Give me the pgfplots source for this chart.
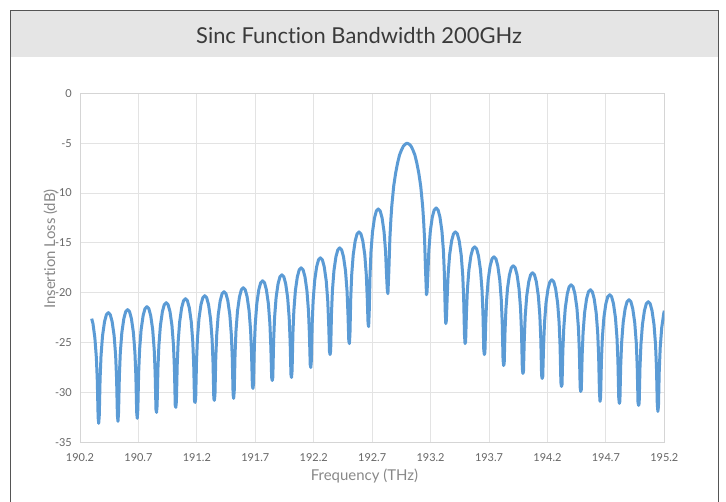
\documentclass[border=0pt]{standalone}
\usepackage{fontspec}
\setmainfont{Lato}[Ligatures=NoCommon]
\usepackage{pgfplots}
\pgfplotsset{compat=1.18}
\definecolor{curvecol}{HTML}{5B9BD5}
\definecolor{headgray}{HTML}{E5E5E5}
\definecolor{bordercol}{HTML}{555555}
\definecolor{gridcol}{HTML}{E3E3E3}
\definecolor{axiscol}{HTML}{D5D5D5}
\definecolor{tickcol}{HTML}{666666}
\definecolor{labelcol}{HTML}{888888}
\definecolor{titlecol}{HTML}{3A3A3A}
\begin{document}
\begin{tikzpicture}
\useasboundingbox (0bp,0bp) rectangle (726bp,502bp);
\fill[white] (0bp,0bp) rectangle (726bp,502bp);
\fill[headgray] (10.5bp,444.5bp) rectangle (718bp,491.5bp);
\draw[bordercol, line width=1bp] (10.5bp,0bp) -- (10.5bp,491.5bp) -- (718bp,491.5bp) -- (718bp,0bp);
\node[anchor=base, inner sep=0pt, text=titlecol, font=\fontsize{22}{22}\selectfont] at (359bp,458.7bp) {Sinc Function Bandwidth 200GHz};
\begin{axis}[
  at={(80bp,59.7bp)}, anchor=south west,
  width=584.3bp, height=349bp, scale only axis,
  xmin=190.2, xmax=195.2, ymin=-35, ymax=0,
  xtick={190.2,190.7,191.2,191.7,192.2,192.7,193.2,193.7,194.2,194.7,195.2},
  xticklabels={190.2,190.7,191.2,191.7,192.2,192.7,193.2,193.7,194.2,194.7,195.2},
  ytick={-35,-30,-25,-20,-15,-10,-5,0},
  yticklabels={-35,-30,-25,-20,-15,-10,-5,0},
  major tick length=0pt,
  grid=major,
  major grid style={gridcol, line width=1bp},
  axis line style={axiscol, line width=1bp},
  tick label style={font=\fontsize{11}{11}\selectfont, text=tickcol},
  xticklabel style={anchor=north, inner sep=0pt, yshift=-11bp},
  yticklabel style={anchor=east, inner sep=0pt, xshift=-8bp},
]
\addplot[curvecol, line width=3bp, line join=round, no marks] table {
x y
190.300 -22.6
190.311 -23.1
190.327 -24.5
190.340 -26.5
190.348 -28.8
190.355 -32.5
190.360 -33.1
190.365 -32.3
190.372 -28.6
190.380 -26.3
190.393 -24.3
190.410 -22.9
190.426 -22.2
190.4425 -22.0
190.459 -22.2
190.475 -22.9
190.492 -24.3
190.505 -26.3
190.513 -28.6
190.520 -32.3
190.525 -32.9
190.530 -32.0
190.537 -28.3
190.545 -26.0
190.558 -24.0
190.575 -22.6
190.591 -21.9
190.6075 -21.7
190.624 -21.9
190.640 -22.6
190.657 -24.0
190.670 -26.0
190.678 -28.3
190.685 -32.0
190.690 -32.6
190.695 -31.7
190.702 -28.0
190.710 -25.7
190.723 -23.7
190.740 -22.3
190.756 -21.6
190.7725 -21.4
190.789 -21.6
190.805 -22.3
190.822 -23.7
190.835 -25.7
190.843 -28.0
190.850 -31.7
190.855 -32.0
190.860 -31.3
190.867 -27.6
190.875 -25.3
190.888 -23.3
190.905 -21.9
190.921 -21.2
190.9375 -21.0
190.954 -21.2
190.970 -21.9
190.987 -23.3
191.000 -25.3
191.008 -27.6
191.015 -31.3
191.020 -31.5
191.025 -30.9
191.032 -27.2
191.040 -24.9
191.053 -22.9
191.070 -21.5
191.086 -20.8
191.1025 -20.6
191.119 -20.8
191.135 -21.5
191.152 -22.9
191.165 -24.9
191.173 -27.2
191.180 -30.9
191.185 -31.0
191.190 -30.6
191.197 -26.9
191.205 -24.6
191.218 -22.6
191.235 -21.2
191.251 -20.5
191.2675 -20.3
191.284 -20.5
191.300 -21.2
191.317 -22.6
191.330 -24.6
191.338 -26.9
191.345 -30.6
191.350 -30.8
191.355 -30.2
191.362 -26.5
191.370 -24.2
191.383 -22.2
191.400 -20.8
191.416 -20.1
191.4325 -19.9
191.449 -20.1
191.465 -20.8
191.482 -22.2
191.495 -24.2
191.503 -26.5
191.510 -30.2
191.515 -30.6
191.520 -29.8
191.527 -26.1
191.535 -23.8
191.548 -21.8
191.565 -20.4
191.581 -19.7
191.5975 -19.5
191.614 -19.7
191.630 -20.4
191.647 -21.8
191.660 -23.8
191.668 -26.1
191.675 -29.3
191.680 -29.6
191.685 -29.1
191.692 -25.4
191.700 -23.1
191.713 -21.1
191.730 -19.7
191.746 -19.0
191.7625 -18.8
191.779 -19.0
191.795 -19.7
191.812 -21.1
191.825 -23.1
191.833 -25.4
191.840 -28.5
191.845 -28.8
191.850 -28.5
191.857 -24.8
191.865 -22.5
191.878 -20.5
191.895 -19.1
191.911 -18.4
191.9275 -18.2
191.944 -18.4
191.960 -19.1
191.977 -20.5
191.990 -22.5
191.998 -24.8
192.005 -28.2
192.010 -28.5
192.015 -27.8
192.022 -24.1
192.030 -21.8
192.043 -19.8
192.060 -18.4
192.076 -17.7
192.0925 -17.5
192.109 -17.7
192.125 -18.4
192.142 -19.8
192.155 -21.8
192.163 -24.1
192.170 -27.2
192.175 -27.5
192.180 -26.8
192.187 -23.1
192.195 -20.8
192.208 -18.8
192.225 -17.4
192.241 -16.7
192.2575 -16.5
192.274 -16.7
192.290 -17.4
192.307 -18.8
192.320 -20.8
192.328 -23.1
192.335 -25.9
192.340 -26.2
192.345 -25.8
192.352 -22.1
192.360 -19.8
192.373 -17.8
192.390 -16.4
192.406 -15.7
192.4225 -15.5
192.439 -15.7
192.455 -16.4
192.472 -17.8
192.485 -19.8
192.493 -22.1
192.500 -24.8
192.505 -25.1
192.510 -24.2
192.517 -20.5
192.525 -18.2
192.538 -16.2
192.555 -14.8
192.571 -14.1
192.5875 -13.9
192.604 -14.1
192.620 -14.8
192.637 -16.2
192.650 -18.2
192.658 -20.5
192.665 -23.1
192.670 -23.4
192.675 -21.9
192.682 -18.2
192.690 -15.9
192.703 -13.9
192.720 -12.5
192.736 -11.8
192.7525 -11.6
192.769 -11.8
192.785 -12.5
192.802 -13.9
192.815 -15.9
192.823 -18.2
192.830 -19.8
192.835 -20.1
192.843 -17.8
192.8515 -14.6
192.860 -12.7
192.868 -11.3
192.8845 -9.3
192.901 -8.0
192.9175 -7.0
192.934 -6.2
192.9505 -5.7
192.967 -5.3
192.9835 -5.1
193.000 -5.0
193.0165 -5.1
193.033 -5.3
193.0495 -5.7
193.066 -6.2
193.0825 -7.0
193.099 -8.0
193.1155 -9.3
193.132 -11.3
193.140 -12.7
193.1485 -14.6
193.157 -17.8
193.165 -20.2
193.170 -19.9
193.177 -18.1
193.185 -15.8
193.198 -13.8
193.215 -12.4
193.231 -11.7
193.2475 -11.5
193.264 -11.7
193.280 -12.4
193.297 -13.8
193.310 -15.8
193.318 -18.1
193.325 -21.8
193.330 -23.1
193.335 -22.8
193.342 -20.5
193.350 -18.2
193.363 -16.2
193.380 -14.8
193.396 -14.1
193.4125 -13.9
193.429 -14.1
193.445 -14.8
193.462 -16.2
193.475 -18.2
193.483 -20.5
193.490 -24.2
193.495 -25.1
193.500 -24.9
193.507 -22.0
193.515 -19.7
193.528 -17.7
193.545 -16.3
193.561 -15.6
193.5775 -15.4
193.594 -15.6
193.610 -16.3
193.627 -17.7
193.640 -19.7
193.648 -22.0
193.655 -25.7
193.660 -26.2
193.665 -26.0
193.672 -23.0
193.680 -20.7
193.693 -18.7
193.710 -17.3
193.726 -16.6
193.7425 -16.4
193.759 -16.6
193.775 -17.3
193.792 -18.7
193.805 -20.7
193.813 -23.0
193.820 -26.7
193.825 -27.3
193.830 -27.1
193.837 -23.9
193.845 -21.6
193.858 -19.6
193.875 -18.2
193.891 -17.5
193.9075 -17.3
193.924 -17.5
193.940 -18.2
193.957 -19.6
193.970 -21.6
193.978 -23.9
193.985 -27.6
193.990 -28.1
193.995 -27.9
194.002 -24.6
194.010 -22.3
194.023 -20.3
194.040 -18.9
194.056 -18.2
194.0725 -18.0
194.089 -18.2
194.105 -18.9
194.122 -20.3
194.135 -22.3
194.143 -24.6
194.150 -28.3
194.155 -28.6
194.160 -28.4
194.167 -25.3
194.175 -23.0
194.188 -21.0
194.205 -19.6
194.221 -18.9
194.2375 -18.7
194.254 -18.9
194.270 -19.6
194.287 -21.0
194.300 -23.0
194.308 -25.3
194.315 -29.0
194.320 -29.4
194.325 -29.2
194.332 -25.8
194.340 -23.5
194.353 -21.5
194.370 -20.1
194.386 -19.4
194.4025 -19.2
194.419 -19.4
194.435 -20.1
194.452 -21.5
194.465 -23.5
194.473 -25.8
194.480 -29.5
194.485 -29.9
194.490 -29.7
194.497 -26.3
194.505 -24.0
194.518 -22.0
194.535 -20.6
194.551 -19.9
194.5675 -19.7
194.584 -19.9
194.600 -20.6
194.617 -22.0
194.630 -24.0
194.638 -26.3
194.645 -30.0
194.650 -30.9
194.655 -30.5
194.662 -26.8
194.670 -24.5
194.683 -22.5
194.700 -21.1
194.716 -20.4
194.7325 -20.2
194.749 -20.4
194.765 -21.1
194.782 -22.5
194.795 -24.5
194.803 -26.8
194.810 -30.5
194.815 -31.1
194.820 -30.9
194.827 -27.3
194.835 -25.0
194.848 -23.0
194.865 -21.6
194.881 -20.9
194.8975 -20.7
194.914 -20.9
194.930 -21.6
194.947 -23.0
194.960 -25.0
194.968 -27.3
194.975 -31.0
194.980 -31.3
194.985 -31.1
194.992 -27.5
195.000 -25.2
195.013 -23.2
195.030 -21.8
195.046 -21.1
195.0625 -20.9
195.079 -21.1
195.095 -21.8
195.112 -23.2
195.125 -25.2
195.133 -27.5
195.140 -31.2
195.145 -31.9
195.150 -31.4
195.157 -27.8
195.165 -25.5
195.178 -23.5
195.195 -22.1
195.200 -21.8
};
\end{axis}
\node[anchor=base, inner sep=0pt, text=labelcol, font=\fontsize{15}{15}\selectfont] at (364.5bp,22bp) {Frequency (THz)};
\node[anchor=base, rotate=90, inner sep=0pt, text=labelcol, font=\fontsize{15}{15}\selectfont] at (55bp,253bp) {Insertion Loss (dB)};
\end{tikzpicture}
\end{document}
